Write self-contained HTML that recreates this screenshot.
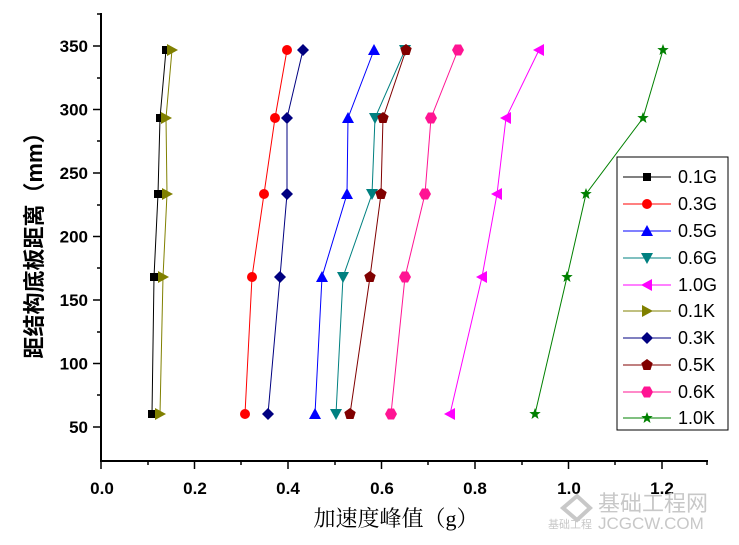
<!DOCTYPE html>
<html><head><meta charset="utf-8"><style>
html,body{margin:0;padding:0;background:#fff;}
svg{display:block;}
</style></head><body>
<svg width="739" height="545" viewBox="0 0 739 545" xmlns="http://www.w3.org/2000/svg" font-family="Liberation Sans, sans-serif">
<defs>
<g id="sq"><rect x="-4" y="-4" width="8" height="8" fill="#000"/></g>
<g id="ci"><circle r="5" fill="#ff0000"/></g>
<g id="tu"><polygon points="0,-6 6,5 -6,5" fill="#0000ff"/></g>
<g id="td"><polygon points="-6,-5 6,-5 0,6" fill="#008080"/></g>
<g id="tl"><polygon points="-6,0 5,-6 5,6" fill="#ff00ff"/></g>
<g id="tr"><polygon points="6,0 -5,-6 -5,6" fill="#808000"/></g>
<g id="di"><polygon points="0,-6 6,0 0,6 -6,0" fill="#000080"/></g>
<g id="pe"><polygon points="0,-6 5.7,-1.9 3.5,5 -3.5,5 -5.7,-1.9" fill="#800000"/></g>
<g id="he"><polygon points="-3,-5.5 3,-5.5 6,0 3,5.5 -3,5.5 -6,0" fill="#ff1493"/></g>
<g id="st"><polygon points="0,-6 1.5,-2 5.7,-1.9 2.4,0.8 3.5,5 0,2.5 -3.5,5 -2.4,0.8 -5.7,-1.9 -1.5,-2" fill="#008000"/></g>
</defs>
<g stroke="#000" stroke-width="2" fill="none">
<line x1="101" y1="13" x2="101" y2="462"/>
<line x1="100" y1="461" x2="708" y2="461"/>
</g>
<g stroke="#000" stroke-width="1.5">
<line x1="101" y1="461" x2="101" y2="469"/><line x1="148" y1="461" x2="148" y2="465"/>
<line x1="194.5" y1="461" x2="194.5" y2="469"/><line x1="241" y1="461" x2="241" y2="465"/>
<line x1="288" y1="461" x2="288" y2="469"/><line x1="335" y1="461" x2="335" y2="465"/>
<line x1="381.5" y1="461" x2="381.5" y2="469"/><line x1="428" y1="461" x2="428" y2="465"/>
<line x1="475" y1="461" x2="475" y2="469"/><line x1="522" y1="461" x2="522" y2="465"/>
<line x1="568.5" y1="461" x2="568.5" y2="469"/><line x1="615" y1="461" x2="615" y2="465"/>
<line x1="662" y1="461" x2="662" y2="469"/><line x1="707" y1="461" x2="707" y2="465"/>
<line x1="93" y1="46" x2="101" y2="46"/><line x1="97" y1="78" x2="101" y2="78"/>
<line x1="93" y1="109.5" x2="101" y2="109.5"/><line x1="97" y1="141" x2="101" y2="141"/>
<line x1="93" y1="173" x2="101" y2="173"/><line x1="97" y1="205" x2="101" y2="205"/>
<line x1="93" y1="236.5" x2="101" y2="236.5"/><line x1="97" y1="268" x2="101" y2="268"/>
<line x1="93" y1="300" x2="101" y2="300"/><line x1="97" y1="332" x2="101" y2="332"/>
<line x1="93" y1="363.5" x2="101" y2="363.5"/><line x1="97" y1="395" x2="101" y2="395"/>
<line x1="93" y1="427" x2="101" y2="427"/><line x1="97" y1="14" x2="101" y2="14"/>
</g>
<g font-size="17" font-weight="bold" text-anchor="end">
<text x="88" y="52">350</text><text x="88" y="115.5">300</text><text x="88" y="179">250</text>
<text x="88" y="242.5">200</text><text x="88" y="306">150</text><text x="88" y="369.5">100</text><text x="88" y="433">50</text>
</g>
<g font-size="17" font-weight="bold" text-anchor="middle">
<text x="102" y="494">0.0</text><text x="195" y="494">0.2</text><text x="288" y="494">0.4</text>
<text x="382" y="494">0.6</text><text x="475" y="494">0.8</text><text x="569" y="494">1.0</text><text x="662" y="494">1.2</text>
</g>
<text x="396" y="526" font-size="22" text-anchor="middle" font-family="Liberation Serif, Noto Serif CJK SC, serif">加速度峰值（g）</text>
<text transform="translate(42,240) rotate(-90)" font-size="22" font-weight="bold" text-anchor="middle" font-family="Liberation Sans, Noto Sans CJK SC, sans-serif">距结构底板距离（mm）</text>
<g fill="none" stroke-width="1">
<polyline stroke="#000" points="166,50 160,118 158,194 154,277 152,414"/>
<polyline stroke="#808000" points="172,50 166,118 167,194 163,277 160,414"/>
<polyline stroke="#ff0000" points="287,50 275,118 264,194 252,277 245,414"/>
<polyline stroke="#000080" points="303,50 287,118 287,194 280,277 268,414"/>
<polyline stroke="#0000ff" points="374,50 348,118 347,194 322,277 315,414"/>
<polyline stroke="#008080" points="405,50 375,118 372,194 343,277 336,414"/>
<polyline stroke="#800000" points="406,50 383,118 381,194 370,277 350,414"/>
<polyline stroke="#ff1493" points="458,50 431,118 425,194 405,277 391,414"/>
<polyline stroke="#ff00ff" points="539,50 506,118 497,194 482,277 450,414"/>
<polyline stroke="#008000" points="663,50 643,118 586,194 567,277 535,414"/>
</g>
<g>
<use href="#sq" x="166" y="50"/><use href="#sq" x="160" y="118"/><use href="#sq" x="158" y="194"/><use href="#sq" x="154" y="277"/><use href="#sq" x="152" y="414"/>
<use href="#tr" x="172" y="50"/><use href="#tr" x="166" y="118"/><use href="#tr" x="167" y="194"/><use href="#tr" x="163" y="277"/><use href="#tr" x="160" y="414"/>
<use href="#ci" x="287" y="50"/><use href="#ci" x="275" y="118"/><use href="#ci" x="264" y="194"/><use href="#ci" x="252" y="277"/><use href="#ci" x="245" y="414"/>
<use href="#di" x="303" y="50"/><use href="#di" x="287" y="118"/><use href="#di" x="287" y="194"/><use href="#di" x="280" y="277"/><use href="#di" x="268" y="414"/>
<use href="#tu" x="374" y="50"/><use href="#tu" x="348" y="118"/><use href="#tu" x="347" y="194"/><use href="#tu" x="322" y="277"/><use href="#tu" x="315" y="414"/>
<use href="#td" x="405" y="50"/><use href="#td" x="375" y="118"/><use href="#td" x="372" y="194"/><use href="#td" x="343" y="277"/><use href="#td" x="336" y="414"/>
<use href="#pe" x="406" y="50"/><use href="#pe" x="383" y="118"/><use href="#pe" x="381" y="194"/><use href="#pe" x="370" y="277"/><use href="#pe" x="350" y="414"/>
<use href="#he" x="458" y="50"/><use href="#he" x="431" y="118"/><use href="#he" x="425" y="194"/><use href="#he" x="405" y="277"/><use href="#he" x="391" y="414"/>
<use href="#tl" x="539" y="50"/><use href="#tl" x="506" y="118"/><use href="#tl" x="497" y="194"/><use href="#tl" x="482" y="277"/><use href="#tl" x="450" y="414"/>
<use href="#st" x="663" y="50"/><use href="#st" x="643" y="118"/><use href="#st" x="586" y="194"/><use href="#st" x="567" y="277"/><use href="#st" x="535" y="414"/>
</g>
<rect x="617" y="157" width="111" height="273" fill="#fff" stroke="#000" stroke-width="1"/>
<g font-size="18">
<g transform="translate(0,177)"><line x1="623" y1="0" x2="671" y2="0" stroke="#000"/><use href="#sq" x="647" y="0"/><text x="678" y="6">0.1G</text></g>
<g transform="translate(0,204)"><line x1="623" y1="0" x2="671" y2="0" stroke="#ff0000"/><use href="#ci" x="647" y="0"/><text x="678" y="6">0.3G</text></g>
<g transform="translate(0,231)"><line x1="623" y1="0" x2="671" y2="0" stroke="#0000ff"/><use href="#tu" x="647" y="0"/><text x="678" y="6">0.5G</text></g>
<g transform="translate(0,258)"><line x1="623" y1="0" x2="671" y2="0" stroke="#008080"/><use href="#td" x="647" y="0"/><text x="678" y="6">0.6G</text></g>
<g transform="translate(0,285)"><line x1="623" y1="0" x2="671" y2="0" stroke="#ff00ff"/><use href="#tl" x="647" y="0"/><text x="678" y="6">1.0G</text></g>
<g transform="translate(0,311)"><line x1="623" y1="0" x2="671" y2="0" stroke="#808000"/><use href="#tr" x="647" y="0"/><text x="678" y="6">0.1K</text></g>
<g transform="translate(0,338)"><line x1="623" y1="0" x2="671" y2="0" stroke="#000080"/><use href="#di" x="647" y="0"/><text x="678" y="6">0.3K</text></g>
<g transform="translate(0,365)"><line x1="623" y1="0" x2="671" y2="0" stroke="#800000"/><use href="#pe" x="647" y="0"/><text x="678" y="6">0.5K</text></g>
<g transform="translate(0,392)"><line x1="623" y1="0" x2="671" y2="0" stroke="#ff1493"/><use href="#he" x="647" y="0"/><text x="678" y="6">0.6K</text></g>
<g transform="translate(0,418)"><line x1="623" y1="0" x2="671" y2="0" stroke="#008000"/><use href="#st" x="647" y="0"/><text x="678" y="6">1.0K</text></g>
</g>
<g fill="#c8c8c8">
<polygon points="563,508 577,496 590,508 577,520" fill="none" stroke="#c8c8c8" stroke-width="4"/>
<text x="598" y="511" font-size="22" font-family="Liberation Sans, Noto Sans CJK SC, sans-serif">基础工程网</text>
<text x="548" y="528" font-size="11" font-family="Noto Sans CJK SC, sans-serif">基础工程</text>
<text x="598" y="529" font-size="17">JCGCW.COM</text>
</g>
</svg>
</body></html>
